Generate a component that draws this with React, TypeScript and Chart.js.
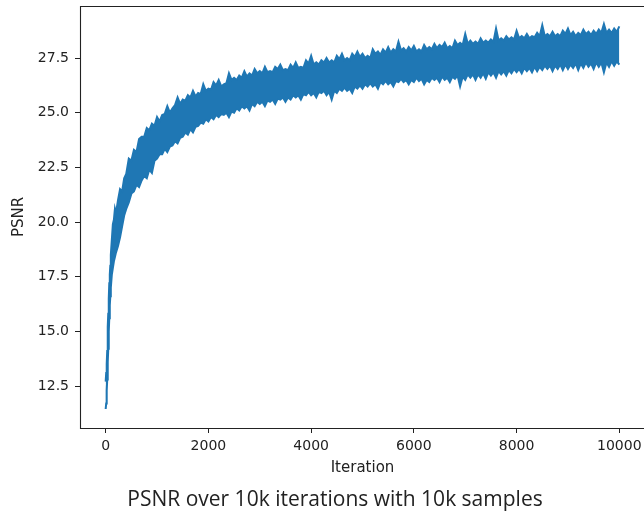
import React, { useEffect, useRef } from "react";
import { Chart, registerables } from "chart.js";

Chart.register(...registerables);

const iterations = [
  0, 10, 20, 30, 40, 50, 60, 70, 80, 90, 100, 120, 140, 160, 180, 200, 240, 280, 320, 360, 400,
  450, 500, 550, 600, 650, 700, 750, 800, 850, 900, 950, 1000,
  1100, 1200, 1300, 1400, 1500, 1600, 1700, 1800, 1900, 2000,
  2100, 2200, 2300, 2400, 2500, 2600, 2700, 2800, 2900, 3000,
  3100, 3200, 3300, 3400, 3500, 3600, 3700, 3800, 3900, 4000,
  4100, 4200, 4300, 4400, 4500, 4600, 4700, 4800, 4900, 5000,
  5100, 5200, 5300, 5400, 5500, 5600, 5700, 5800, 5900, 6000,
  6100, 6200, 6300, 6400, 6500, 6600, 6700, 6800, 6900, 7000,
  7100, 7200, 7300, 7400, 7500, 7600, 7700, 7800, 7900, 8000,
  8100, 8200, 8300, 8400, 8500, 8600, 8700, 8800, 8900, 9000,
  9100, 9200, 9300, 9400, 9500, 9600, 9700, 9800, 9900, 10000,
];

// upper edge of the noisy PSNR trace
const psnrHigh = [
  12.7, 13.1, 13.5, 14.1, 15.2, 15.8, 16.5, 17.2, 17.6, 18.0, 18.5, 19.2, 19.9, 20.1, 20.6, 20.4, 21.0, 21.5, 21.4, 22.0, 22.2,
  22.9, 22.8, 23.3, 23.2, 23.8, 23.9, 23.9, 24.3, 24.2, 24.5, 24.4, 24.8,
  24.9, 25.3, 25.2, 25.7, 25.6, 25.8, 26.0, 25.9, 26.3, 26.1,
  26.4, 26.5, 26.3, 26.8, 26.6, 26.7, 26.9, 26.8, 27.0, 26.9,
  27.1, 26.9, 27.1, 27.2, 27.0, 27.2, 27.3, 27.1, 27.4, 27.6,
  27.3, 27.4, 27.5, 27.4, 27.6, 27.7, 27.5, 27.7, 27.8, 27.7,
  27.6, 27.9, 27.8, 27.9, 28.0, 27.9, 28.25, 27.95, 28.0, 28.05,
  27.9, 28.1, 28.0, 28.15, 28.1, 28.2, 28.05, 28.3, 28.2, 28.6,
  28.3, 28.25, 28.4, 28.3, 28.35, 28.85, 28.4, 28.5, 28.45, 28.75,
  28.5, 28.6, 28.5, 28.65, 29.0, 28.6, 28.7, 28.6, 28.75, 28.85,
  28.7, 28.65, 28.8, 28.7, 28.75, 28.8, 29.05, 28.8, 28.85, 28.95,
];

// lower edge of the noisy PSNR trace
const psnrLow = [
  11.45, 11.7, 12.3, 12.8, 13.6, 14.2, 15.0, 15.6, 16.2, 16.6, 17.0, 17.6, 17.9, 18.2, 18.4, 18.6, 18.9, 19.3, 19.8, 20.3, 20.6,
  20.9, 21.3, 21.4, 21.7, 21.6, 21.9, 22.1, 22.0, 22.4, 22.25, 22.8, 22.9,
  23.1, 23.2, 23.5, 23.6, 23.9, 24.0, 24.1, 24.4, 24.5, 24.6,
  24.7, 24.8, 24.9, 24.8, 25.0, 25.1, 25.2, 25.1, 25.3, 25.4,
  25.3, 25.5, 25.4, 25.6, 25.5, 25.6, 25.7, 25.6, 25.8, 25.8,
  25.7, 25.9, 25.8, 25.6, 25.9, 26.0, 26.0, 25.9, 26.1, 26.1,
  26.2, 26.2, 26.1, 26.3, 26.3, 26.2, 26.4, 26.4, 26.3, 26.4,
  26.45, 26.3, 26.4, 26.5, 26.4, 26.5, 26.4, 26.55, 26.2, 26.5,
  26.6, 26.5, 26.6, 26.55, 26.7, 26.6, 26.75, 26.7, 26.8, 26.85,
  26.8, 26.9, 26.85, 26.9, 26.95, 27.0, 26.9, 27.0, 26.95, 27.0,
  27.05, 26.95, 27.05, 27.1, 27.0, 27.1, 26.85, 27.1, 27.15, 27.2,
];

// in-between samples (the noise between the spikes)
const midIterations = [
  1050, 1150, 1250, 1350, 1450, 1550, 1650, 1750, 1850, 1950,
  2050, 2150, 2250, 2350, 2450, 2550, 2650, 2750, 2850, 2950,
  3050, 3150, 3250, 3350, 3450, 3550, 3650, 3750, 3850, 3950,
  4050, 4150, 4250, 4350, 4450, 4550, 4650, 4750, 4850, 4950,
  5050, 5150, 5250, 5350, 5450, 5550, 5650, 5750, 5850, 5950,
  6050, 6150, 6250, 6350, 6450, 6550, 6650, 6750, 6850, 6950,
  7050, 7150, 7250, 7350, 7450, 7550, 7650, 7750, 7850, 7950,
  8050, 8150, 8250, 8350, 8450, 8550, 8650, 8750, 8850, 8950,
  9050, 9150, 9250, 9350, 9450, 9550, 9650, 9750, 9850, 9950,
];

const midHigh = [
  24.6, 24.95, 25.0, 25.35, 25.4, 25.55, 25.7, 25.75, 25.85, 26.0,
  26.05, 26.25, 26.2, 26.35, 26.5, 26.5, 26.6, 26.65, 26.7, 26.8,
  26.8, 26.85, 26.85, 27.0, 26.95, 26.95, 27.05, 27.05, 27.05, 27.25,
  27.2, 27.2, 27.3, 27.3, 27.3, 27.45, 27.4, 27.4, 27.55, 27.55,
  27.5, 27.5, 27.7, 27.65, 27.75, 27.75, 27.8, 27.85, 27.8, 27.85,
  27.8, 27.8, 27.9, 27.9, 27.95, 28.0, 27.95, 27.95, 28.1, 28.1,
  28.15, 28.15, 28.15, 28.2, 28.2, 28.25, 28.3, 28.3, 28.35, 28.35,
  28.4, 28.4, 28.4, 28.45, 28.5, 28.5, 28.5, 28.5, 28.5, 28.6,
  28.55, 28.5, 28.55, 28.6, 28.55, 28.6, 28.65, 28.65, 28.65, 28.7,
];

const midLow = [
  23.1, 23.35, 23.45, 23.7, 23.85, 24.1, 24.25, 24.35, 24.55, 24.7,
  24.8, 24.9, 24.95, 25.0, 25.05, 25.2, 25.3, 25.3, 25.4, 25.5,
  25.5, 25.55, 25.6, 25.65, 25.7, 25.7, 25.8, 25.8, 25.85, 25.95,
  25.9, 25.95, 26.0, 25.95, 26.0, 26.1, 26.15, 26.1, 26.2, 26.25,
  26.3, 26.35, 26.3, 26.4, 26.45, 26.4, 26.45, 26.55, 26.5, 26.5,
  26.6, 26.55, 26.5, 26.6, 26.6, 26.65, 26.6, 26.65, 26.7, 26.65,
  26.75, 26.75, 26.75, 26.8, 26.85, 26.85, 26.9, 26.9, 26.95, 27.0,
  27.0, 27.05, 27.05, 27.1, 27.1, 27.15, 27.15, 27.15, 27.2, 27.2,
  27.2, 27.25, 27.25, 27.3, 27.25, 27.3, 27.3, 27.3, 27.35, 27.35,
];

const xTicks = [0, 2000, 4000, 6000, 8000, 10000];
const yTicks = [12.5, 15.0, 17.5, 20.0, 22.5, 25.0, 27.5];

const xTitle = "Iteration";
const yTitle = "PSNR";
const caption = "PSNR over 10k iterations with 10k samples";

const BLUE = "#1f77b4";
const TICK_FONT = { family: "'DejaVu Sans', sans-serif", size: 14 };
const TITLE_FONT = { family: "'DejaVu Sans', sans-serif", size: 15 };

function edgePoints(its: number[], vals: number[], mIts: number[], mVals: number[]) {
  const pts = its.map((it, i) => ({ x: it, y: vals[i] }));
  mIts.forEach((it, i) => pts.push({ x: it, y: mVals[i] }));
  pts.sort((a, b) => a.x - b.x);
  return pts;
}

function noPad(s: any) {
  s.paddingTop = 0;
  s.paddingBottom = 0;
  s.paddingLeft = 0;
  s.paddingRight = 0;
}

export default function App() {
  const canvasRef = useRef<HTMLCanvasElement | null>(null);

  useEffect(() => {
    const canvas = canvasRef.current;
    if (!canvas) return;

    const spines = {
      id: "spines",
      afterDraw(chart: any) {
        const { ctx, chartArea } = chart;
        ctx.save();
        ctx.strokeStyle = "#222";
        ctx.lineWidth = 1.1;
        ctx.beginPath();
        ctx.moveTo(80.5, chartArea.top + 0.5);
        ctx.lineTo(chartArea.right + 2, chartArea.top + 0.5);
        ctx.moveTo(80.5, chartArea.top);
        ctx.lineTo(80.5, chartArea.bottom + 1);
        ctx.moveTo(80, chartArea.bottom + 0.5);
        ctx.lineTo(chartArea.right + 2, chartArea.bottom + 0.5);
        ctx.stroke();
        ctx.restore();
      },
    };

    const chart = new Chart(canvas, {
      type: "line",
      data: {
        datasets: [
          {
            label: "PSNR high",
            data: edgePoints(iterations, psnrHigh, midIterations, midHigh),
            borderColor: BLUE,
            backgroundColor: BLUE,
            borderWidth: 2,
            pointRadius: 0,
            tension: 0,
            fill: "+1",
          },
          {
            label: "PSNR low",
            data: edgePoints(iterations, psnrLow, midIterations, midLow),
            borderColor: BLUE,
            backgroundColor: BLUE,
            borderWidth: 2,
            pointRadius: 0,
            tension: 0,
            fill: false,
          },
        ],
      },
      plugins: [spines],
      options: {
        animation: false,
        responsive: false,
        events: [],
        layout: { padding: { left: 0, right: 5, top: 6, bottom: 33 } },
        plugins: {
          legend: { display: false },
          tooltip: { enabled: false },
          title: { display: false },
        },
        scales: {
          x: {
            type: "linear",
            min: -500,
            max: 10500,
            afterFit: (s: any) => {
              s.height = 52;
              noPad(s);
            },
            afterBuildTicks: (s: any) => {
              s.ticks = xTicks.map((v) => ({ value: v }));
            },
            grid: {
              display: true,
              drawOnChartArea: false,
              drawTicks: true,
              tickLength: 5,
              tickColor: "#222",
              tickWidth: 1,
            },
            border: { display: false },
            ticks: {
              color: "#222",
              font: TICK_FONT,
              padding: 5,
              maxRotation: 0,
              autoSkip: false,
              callback: (v: any) => String(v),
            },
            title: {
              display: true,
              text: xTitle,
              color: "#222",
              font: TITLE_FONT,
              padding: { top: 0, bottom: 2.4 },
            },
          },
          y: {
            type: "linear",
            min: 10.58,
            max: 29.88,
            afterFit: (s: any) => {
              s.width = 80;
              noPad(s);
            },
            afterBuildTicks: (s: any) => {
              s.ticks = yTicks.map((v) => ({ value: v }));
            },
            grid: {
              display: true,
              drawOnChartArea: false,
              drawTicks: true,
              tickLength: 5,
              tickColor: "#222",
              tickWidth: 1,
            },
            border: { display: false },
            ticks: {
              color: "#222",
              font: TICK_FONT,
              padding: 6,
              autoSkip: false,
              callback: (v: any) => Number(v).toFixed(1),
            },
            title: {
              display: true,
              text: yTitle,
              color: "#222",
              font: TITLE_FONT,
              padding: { top: 9.8, bottom: 0 },
            },
          },
        },
      },
    });

    return () => chart.destroy();
  }, []);

  return (
    <div
      style={{
        position: "fixed",
        left: 0,
        top: 0,
        width: 644,
        height: 513,
        overflow: "hidden",
        background: "#fff",
      }}
    >
      <canvas
        ref={canvasRef}
        width={650}
        height={513}
        style={{ position: "absolute", left: 0, top: 0, width: 650, height: 513 }}
      />
      <div
        style={{
          position: "absolute",
          left: 0,
          width: 670,
          top: 488,
          textAlign: "center",
          fontFamily: "'Open Sans', sans-serif",
          fontSize: 21,
          lineHeight: "21px",
          color: "#222",
          whiteSpace: "nowrap",
        }}
      >
        {caption}
      </div>
    </div>
  );
}
